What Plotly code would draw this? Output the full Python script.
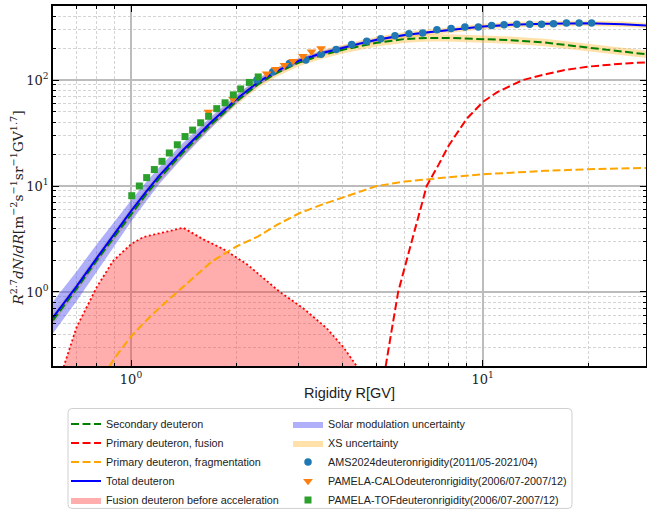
import plotly.graph_objects as go

# ---------------- data ----------------
R_curve = [0.6, 0.65, 0.7, 0.8, 0.9, 1.0, 1.1, 1.2, 1.4, 1.7, 2.0, 2.3, 2.6, 3.0, 3.5,
           4.0, 4.5, 5.0, 6.0, 7.0, 8.0, 10, 12, 15, 20, 25, 29.2]
total = [0.575, 0.81, 1.13, 2.1, 3.6, 5.8, 8.7, 12.4, 21.5, 40.8, 66.5, 95.7, 122, 152, 180,
         203, 222, 240, 266, 282, 295, 320, 332, 340, 343, 337, 327]
secondary = [0.54, 0.77, 1.07, 2.0, 3.4, 5.45, 8.2, 11.7, 20.4, 38.8, 63.5, 91.5, 117, 146,
             172, 193, 210, 225, 244, 250, 250, 245, 238, 226, 201, 186, 175]
# solar modulation half-width (decades) around total
sm_dex = [0.15, 0.145, 0.14, 0.13, 0.115, 0.10, 0.09, 0.08, 0.068, 0.053, 0.042, 0.035, 0.03,
          0.025, 0.021, 0.018, 0.016, 0.014, 0.011, 0.009, 0.008, 0.006, 0.005, 0.004, 0.003,
          0.003, 0.003]
# cross-section half-width (decades) around secondary and total
xs_dex_sec = [0.035, 0.035, 0.035, 0.035, 0.035, 0.035, 0.035, 0.035, 0.035, 0.035, 0.035,
              0.035, 0.035, 0.035, 0.035, 0.035, 0.035, 0.035, 0.035, 0.035, 0.035, 0.035,
              0.035, 0.035, 0.035, 0.035, 0.035]
xs_dex_tot = [0.034, 0.034, 0.034, 0.034, 0.034, 0.034, 0.034, 0.034, 0.034, 0.034, 0.033,
              0.032, 0.031, 0.030, 0.030, 0.029, 0.029, 0.028, 0.028, 0.027, 0.027, 0.026,
              0.026, 0.025, 0.025, 0.024, 0.024]

R_frag = [0.8, 0.9, 1.0, 1.1, 1.2, 1.4, 1.7, 2.0, 2.3, 2.6, 3.0, 3.5, 4.0, 4.5, 5.0, 6.0,
          7.0, 8.0, 10, 12, 15, 20, 25, 29.2]
frag = [0.13, 0.24, 0.38, 0.53, 0.70, 1.1, 1.95, 2.7, 3.35, 4.3, 5.5, 6.7, 7.8, 8.9, 10.0,
        11.0, 11.6, 12.1, 12.9, 13.4, 13.9, 14.4, 14.6, 14.8]

R_fus = [5.2, 5.3, 5.5, 5.75, 6.0, 6.5, 6.93, 7.5, 8.0, 9.0, 10, 11, 12, 13, 15, 17, 20, 25, 29.2]
fus = [0.12, 0.2, 0.42, 1.0, 1.7, 4.5, 10, 16, 24, 43, 62, 77, 89, 100, 113, 124, 134, 143, 147]

R_fba = [0.62, 0.649, 0.701, 0.75, 0.799, 0.89, 1.0, 1.084, 1.21, 1.3, 1.408, 1.605, 1.83,
         2.13, 2.65, 3.09, 3.6, 4.02, 4.38, 4.6]
fba = [0.135, 0.215, 0.47, 0.73, 1.11, 1.97, 2.82, 3.3, 3.6, 3.78, 4.03, 3.14, 2.54, 1.84,
       1.0, 0.7, 0.455, 0.30, 0.2, 0.15]
fba_floor = [0.001] * len(R_fba)

AMS_R = [2.28, 2.53, 2.82, 3.14, 3.47, 3.83, 4.24, 4.68, 5.13, 5.63, 6.17, 6.75, 7.41, 8.13,
         8.9, 9.72, 10.6, 11.5, 12.5, 13.6, 14.7, 15.9, 17.3, 18.8, 20.4]
AMS_flux = [100, 120, 143, 155, 175, 194, 216, 232, 246, 262, 274, 278, 299, 307, 316, 316,
            327, 333, 337, 337, 337, 340, 345, 345, 345]

CALO_R = [1.66, 1.95, 2.43, 2.58, 2.73, 2.89, 3.08, 3.26, 3.47]
CALO_flux = [50, 66, 115, 127, 138, 151, 168, 185, 199]

TOF_R = [1.005, 1.056, 1.108, 1.165, 1.225, 1.285, 1.354, 1.424, 1.497, 1.578, 1.662, 1.753,
         1.851, 1.954, 2.05, 2.17, 2.30]
TOF_flux = [8.1, 10.0, 12.0, 14.3, 17.1, 20.5, 24.5, 29.3, 33.7, 39.5, 45.5, 53.7, 61, 72.5,
            82.4, 95, 107]

x_major = [1, 10]
x_major_text = ["10<sup>0</sup>", "10<sup>1</sup>"]
x_minor = [0.6, 0.7, 0.8, 0.9, 2, 3, 4, 5, 6, 7, 8, 9, 20]
y_major = [1, 10, 100]
y_major_text = ["10<sup>0</sup>", "10<sup>1</sup>", "10<sup>2</sup>"]
y_minor = [0.2, 0.3, 0.4, 0.5, 0.6, 0.7, 0.8, 0.9, 2, 3, 4, 5, 6, 7, 8, 9,
           20, 30, 40, 50, 60, 70, 80, 90, 200, 300, 400, 500]

# ---------------- figure ----------------
fig = go.Figure()


def band(x, center, dex, color, name, legend, show, rank):
    lo = [c / 10 ** d for c, d in zip(center, dex)]
    hi = [c * 10 ** d for c, d in zip(center, dex)]
    fig.add_trace(go.Scatter(x=x, y=lo, mode="lines", line=dict(width=0),
                             showlegend=False, hoverinfo="skip"))
    fig.add_trace(go.Scatter(x=x, y=hi, mode="lines", line=dict(width=0), fill="tonexty",
                             fillcolor=color, name=name, showlegend=show, legend=legend,
                             legendrank=rank, legendgroup=name))


XS_COL = "rgba(255,180,40,0.40)"
SM_COL = "rgba(80,80,245,0.45)"
band(R_curve, secondary, xs_dex_sec, XS_COL, "XS uncertainty", "legend2", True, 2)
band(R_curve, total, xs_dex_tot, XS_COL, "XS uncertainty", "legend2", False, 2)
band(R_curve, total, sm_dex, SM_COL, "Solar modulation uncertainty", "legend2", True, 1)

# fusion deuteron before acceleration (filled)
fig.add_trace(go.Scatter(x=R_fba, y=fba_floor, mode="lines", line=dict(width=0),
                         showlegend=False, hoverinfo="skip"))
fig.add_trace(go.Scatter(x=R_fba, y=fba, mode="lines", line=dict(width=0), fill="tonexty",
                         fillcolor="rgba(255,60,60,0.42)",
                         name="Fusion deuteron before acceleration", legend="legend",
                         legendrank=5, legendgroup="fba"))
fig.add_trace(go.Scatter(x=R_fba, y=fba, mode="lines",
                         line=dict(color="red", width=1.8, dash="2px,2.5px"),
                         showlegend=False))

DASH = "8px,3.5px"
fig.add_trace(go.Scatter(x=R_frag, y=frag, mode="lines",
                         line=dict(color="orange", width=2, dash=DASH),
                         name="Primary deuteron, fragmentation", legend="legend",
                         legendrank=3, legendgroup="frag"))
fig.add_trace(go.Scatter(x=R_fus, y=fus, mode="lines",
                         line=dict(color="red", width=2, dash=DASH),
                         name="Primary deuteron, fusion", legend="legend",
                         legendrank=2, legendgroup="fus"))
fig.add_trace(go.Scatter(x=R_curve, y=secondary, mode="lines",
                         line=dict(color="green", width=2, dash=DASH),
                         name="Secondary deuteron", legend="legend",
                         legendrank=1, legendgroup="sec"))
fig.add_trace(go.Scatter(x=R_curve, y=total, mode="lines",
                         line=dict(color="blue", width=2),
                         name="Total deuteron", legend="legend",
                         legendrank=4, legendgroup="tot"))

fig.add_trace(go.Scatter(x=AMS_R, y=AMS_flux, mode="markers",
                         marker=dict(color="#1f77b4", size=7.5, symbol="circle"),
                         name="AMS2024deuteronrigidity(2011/05-2021/04)", legend="legend2",
                         legendrank=3, legendgroup="ams"))
fig.add_trace(go.Scatter(x=CALO_R, y=CALO_flux, mode="markers",
                         marker=dict(color="#ff7f0e", size=8.5, symbol="triangle-down"),
                         name="PAMELA-CALOdeuteronrigidity(2006/07-2007/12)", legend="legend2",
                         legendrank=4, legendgroup="calo"))
fig.add_trace(go.Scatter(x=TOF_R, y=TOF_flux, mode="markers",
                         marker=dict(color="#2ca02c", size=7, symbol="square"),
                         name="PAMELA-TOFdeuteronrigidity(2006/07-2007/12)", legend="legend2",
                         legendrank=5, legendgroup="tof"))

# ---------------- layout ----------------
L, R, T, B = 53, 1, 6, 146
W, H = 647, 516
pw, ph = W - L - R, H - T - B


def px_x(px):
    return (px - L) / pw


def px_y(py):
    return (H - B - py) / ph


axis_common = dict(
    type="log", showline=True, linecolor="black", linewidth=1.8, mirror="allticks",
    ticks="inside", ticklen=6, tickwidth=1.3, tickcolor="black",
    showgrid=True, gridcolor="#bcbcbc", gridwidth=1.6,
    tickfont=dict(family="DejaVu Serif", size=13, color="#222"),
    zeroline=False, tickmode="array", automargin=False,
)
minor_common = dict(tickmode="array", ticks="inside", ticklen=3.5, tickcolor="black",
                    tickwidth=1, showgrid=True, gridcolor="#d4d4d4",
                    griddash="3px,2px", gridwidth=0.8)

fig.update_xaxes(
    **axis_common, range=[-0.2218, 1.4643], tickvals=x_major, ticktext=x_major_text,
    minor=dict(**minor_common, tickvals=x_minor),
    title=dict(text="Rigidity R[GV]", font=dict(family="Liberation Sans", size=14.5,
                                                 color="#222"), standoff=2),
)
fig.update_yaxes(
    **axis_common, range=[-0.699, 2.699], tickvals=y_major, ticktext=y_major_text,
    minor=dict(**minor_common, tickvals=y_minor),
)

fig.add_annotation(
    text="<i>R</i><sup>2.7</sup><i>dN</i>/<i>dR</i>[m<sup>−2</sup>s<sup>−1</sup>"
         "sr<sup>−1</sup>GV<sup>1.7</sup>]",
    xref="paper", yref="paper", x=px_x(17), y=px_y(211), textangle=-90,
    showarrow=False, xanchor="center", yanchor="middle",
    font=dict(family="DejaVu Serif", size=13.8, color="#222"),
)

leg_font = dict(family="Liberation Sans", size=10.8, color="#222")
fig.update_layout(
    width=W, height=H, margin=dict(l=L, r=R, t=T, b=B),
    plot_bgcolor="white", paper_bgcolor="white",
    legend=dict(x=px_x(66), y=px_y(414), xanchor="left", yanchor="top",
                bgcolor="rgba(0,0,0,0)", font=leg_font, tracegroupgap=0,
                orientation="v"),
    legend2=dict(x=px_x(288), y=px_y(414), xanchor="left", yanchor="top",
                 bgcolor="rgba(0,0,0,0)", font=leg_font, tracegroupgap=0,
                 orientation="v"),
)

# legend frame with rounded corners
x0, x1 = px_x(68), px_x(572)
y0, y1 = px_y(514), px_y(413)
rx, ry = 4 / pw, 4 / ph
path = (f"M {x0+rx},{y1} L {x1-rx},{y1} Q {x1},{y1} {x1},{y1-ry} L {x1},{y0+ry} "
        f"Q {x1},{y0} {x1-rx},{y0} L {x0+rx},{y0} Q {x0},{y0} {x0},{y0+ry} "
        f"L {x0},{y1-ry} Q {x0},{y1} {x0+rx},{y1} Z")
fig.add_shape(type="path", path=path, xref="paper", yref="paper",
              line=dict(color="#d0d0d0", width=1), fillcolor="rgba(255,255,255,0.8)",
              layer="below")

fig.write_html("out.html")
